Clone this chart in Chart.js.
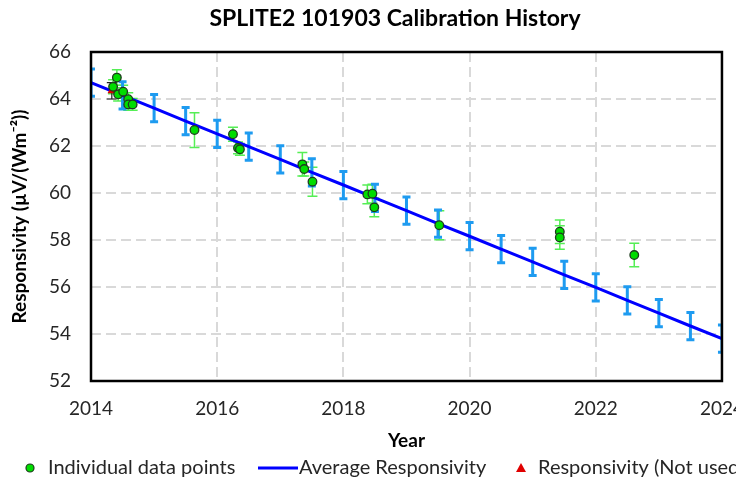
<!DOCTYPE html>
<html>
<head>
<meta charset="utf-8">
<script src="https://cdn.jsdelivr.net/npm/chart.js@4"></script>
<style>
  body { margin: 0; width: 736px; height: 483px; overflow: hidden; background: #fff; }
  #wrap { width: 760px; height: 483px; position: relative; }
</style>
</head>
<body>
<div id="wrap"><canvas id="calChart" width="760" height="483"></canvas></div>
<script>
const chartTitle = 'SPLITE2 101903 Calibration History';
const legendLabels = ['Individual data points', 'Average Responsivity', 'Responsivity (Not used)'];

// individual calibrations
const pointYears  = [2014.41, 2014.35, 2014.43, 2014.51, 2014.59, 2014.59, 2014.66, 2015.64, 2016.25, 2016.33, 2016.36,
                     2017.35, 2017.38, 2017.51, 2018.38, 2018.46, 2018.49, 2019.52, 2021.43, 2021.43, 2022.61];
const pointValues = [64.91, 64.52, 64.20, 64.31, 63.99, 63.77, 63.77, 62.68, 62.50, 61.92, 61.86,
                     61.22, 61.02, 60.48, 59.94, 59.97, 59.39, 58.63, 58.35, 58.11, 57.36];
const pointErrors = [0.33, 0.30, 0.28, 0.28, 0.28, 0.25, 0.25, 0.74, 0.30, 0.25, 0.25,
                     0.50, 0.30, 0.62, 0.40, 0.40, 0.40, 0.62, 0.50, 0.50, 0.50];

// average responsivity (half-year steps)
const avgYears  = [2014, 2014.5, 2015, 2015.5, 2016, 2016.5, 2017, 2017.5, 2018, 2018.5, 2019,
                   2019.5, 2020, 2020.5, 2021, 2021.5, 2022, 2022.5, 2023, 2023.5, 2024];
const avgValues = [64.70, 64.15, 63.61, 63.06, 62.52, 61.97, 61.43, 60.88, 60.34, 59.79, 59.25,
                   58.70, 58.16, 57.61, 57.07, 56.52, 55.98, 55.43, 54.89, 54.34, 53.80];
const avgErrors = [0.58, 0.58, 0.58, 0.58, 0.58, 0.58, 0.58, 0.58, 0.58, 0.58, 0.58,
                   0.58, 0.58, 0.58, 0.58, 0.58, 0.58, 0.58, 0.58, 0.58, 0.58];

// not used
const redYears  = [2014.33];
const redValues = [64.35];
const redErrors = [0.35];

const xTicks = [2014, 2016, 2018, 2020, 2022, 2024];

const FONT = 'Lato, "Open Sans", sans-serif';
Chart.defaults.font.family = FONT;
Chart.defaults.color = '#262626';

function toXY(xs, ys) {
  return xs.map((x, i) => ({ x: x, y: ys[i] }));
}

const errorBars = {
  id: 'errorBars',
  beforeDatasetsDraw(chart) {
    const ctx = chart.ctx;
    const a = chart.chartArea;
    const yScale = chart.scales.y;
    ctx.save();
    ctx.beginPath();
    ctx.rect(a.left, a.top, a.right - a.left, a.bottom - a.top);
    ctx.clip();
    chart.data.datasets.forEach((ds, di) => {
      if (!ds.errors) return;
      const meta = chart.getDatasetMeta(di);
      ctx.strokeStyle = ds.errColor;
      ctx.lineWidth = ds.errWidth;
      meta.data.forEach((el, i) => {
        const v = ds.data[i].y;
        const e = ds.errors[i];
        const y1 = yScale.getPixelForValue(v + e);
        const y2 = yScale.getPixelForValue(v - e);
        const x = el.x;
        const c = ds.errCap;
        ctx.beginPath();
        ctx.moveTo(x, y1); ctx.lineTo(x, y2);
        ctx.moveTo(x - c, y1); ctx.lineTo(x + c, y1);
        ctx.moveTo(x - c, y2); ctx.lineTo(x + c, y2);
        ctx.stroke();
      });
    });
    ctx.restore();
  }
};

const frameAndText = {
  id: 'frameAndText',
  afterDatasetsDraw(chart) {
    const ctx = chart.ctx;
    const a = chart.chartArea;
    ctx.save();
    ctx.strokeStyle = '#000';
    ctx.lineWidth = 2.5;
    ctx.strokeRect(a.left, a.top, a.right - a.left, a.bottom - a.top);
    ctx.restore();
  },
  afterDraw(chart) {
    const ctx = chart.ctx;
    ctx.save();
    ctx.fillStyle = '#000';
    ctx.textBaseline = 'middle';
    ctx.textAlign = 'center';
    ctx.font = 'bold 23px ' + FONT;
    ctx.fillText(chartTitle, 395, 19);

    const ly = 468;
    ctx.font = '20px ' + FONT;
    ctx.textAlign = 'left';
    // green circle
    ctx.beginPath();
    ctx.arc(30, ly, 4, 0, Math.PI * 2);
    ctx.fillStyle = '#00dd00';
    ctx.fill();
    ctx.lineWidth = 1.2;
    ctx.strokeStyle = '#1d3b1d';
    ctx.stroke();
    ctx.fillStyle = '#262626';
    ctx.fillText(legendLabels[0], 48, ly);
    // blue line
    ctx.beginPath();
    ctx.moveTo(258, ly); ctx.lineTo(298, ly);
    ctx.strokeStyle = '#0000ff';
    ctx.lineWidth = 3;
    ctx.stroke();
    ctx.fillText(legendLabels[1], 299, ly);
    // red triangle
    ctx.beginPath();
    ctx.moveTo(521, ly - 5); ctx.lineTo(526, ly + 4); ctx.lineTo(516, ly + 4);
    ctx.closePath();
    ctx.fillStyle = '#e00000';
    ctx.fill();
    ctx.fillStyle = '#262626';
    ctx.fillText(legendLabels[2], 538, ly);
    ctx.restore();
  }
};

new Chart(document.getElementById('calChart'), {
  type: 'scatter',
  data: {
    datasets: [
      {
        label: legendLabels[0],
        data: toXY(pointYears, pointValues),
        errors: pointErrors,
        errColor: '#55ee55',
        errWidth: 1.5,
        errCap: 5,
        pointRadius: 4.3,
        pointBackgroundColor: '#00dd00',
        pointBorderColor: '#1d3b1d',
        pointBorderWidth: 1.3
      },
      {
        label: legendLabels[2],
        data: toXY(redYears, redValues),
        errors: redErrors,
        errColor: '#222',
        errWidth: 1.2,
        errCap: 5,
        pointStyle: 'triangle',
        pointRadius: 5,
        pointBackgroundColor: '#e00000',
        pointBorderColor: '#e00000',
        pointBorderWidth: 0
      },
      {
        label: legendLabels[1],
        data: toXY(avgYears, avgValues),
        errors: avgErrors,
        errColor: '#1e9bf0',
        errWidth: 3,
        errCap: 4,
        showLine: true,
        borderColor: '#0000ff',
        borderWidth: 3,
        pointRadius: 0,
        clip: 0
      }
    ]
  },
  options: {
    responsive: false,
    animation: false,
    layout: { padding: { top: 52, right: 35, bottom: 30, left: 0 } },
    plugins: {
      legend: { display: false },
      title: { display: false },
      tooltip: { enabled: false }
    },
    scales: {
      x: {
        type: 'linear',
        min: 2014,
        max: 2024,
        afterBuildTicks: (s) => { s.ticks = xTicks.map(v => ({ value: v })); },
        afterFit: (s) => { s.height = 72; },
        ticks: {
          padding: 16,
          font: { size: 19 },
          color: '#262626',
          maxRotation: 0,
          callback: (v) => String(v)
        },
        grid: { color: '#d9d9d9', lineWidth: 2, drawTicks: false },
        border: { display: false, dash: [10, 5] },
        title: {
          display: true,
          text: 'Year',
          font: { size: 19, weight: 'bold' },
          color: '#000',
          padding: { top: 0, bottom: 1 }
        }
      },
      y: {
        min: 52,
        max: 66,
        afterFit: (s) => { s.width = 91; },
        ticks: {
          stepSize: 2,
          padding: 20,
          font: { size: 19 },
          color: '#262626'
        },
        grid: { color: '#d9d9d9', lineWidth: 2, drawTicks: false },
        border: { display: false, dash: [10, 5] },
        title: {
          display: true,
          text: 'Responsivity (µV/(Wm⁻²))',
          font: { size: 19, weight: 'bold' },
          color: '#000',
          padding: { top: 8, bottom: 0 }
        }
      }
    }
  },
  plugins: [errorBars, frameAndText]
});
</script>
</body>
</html>
